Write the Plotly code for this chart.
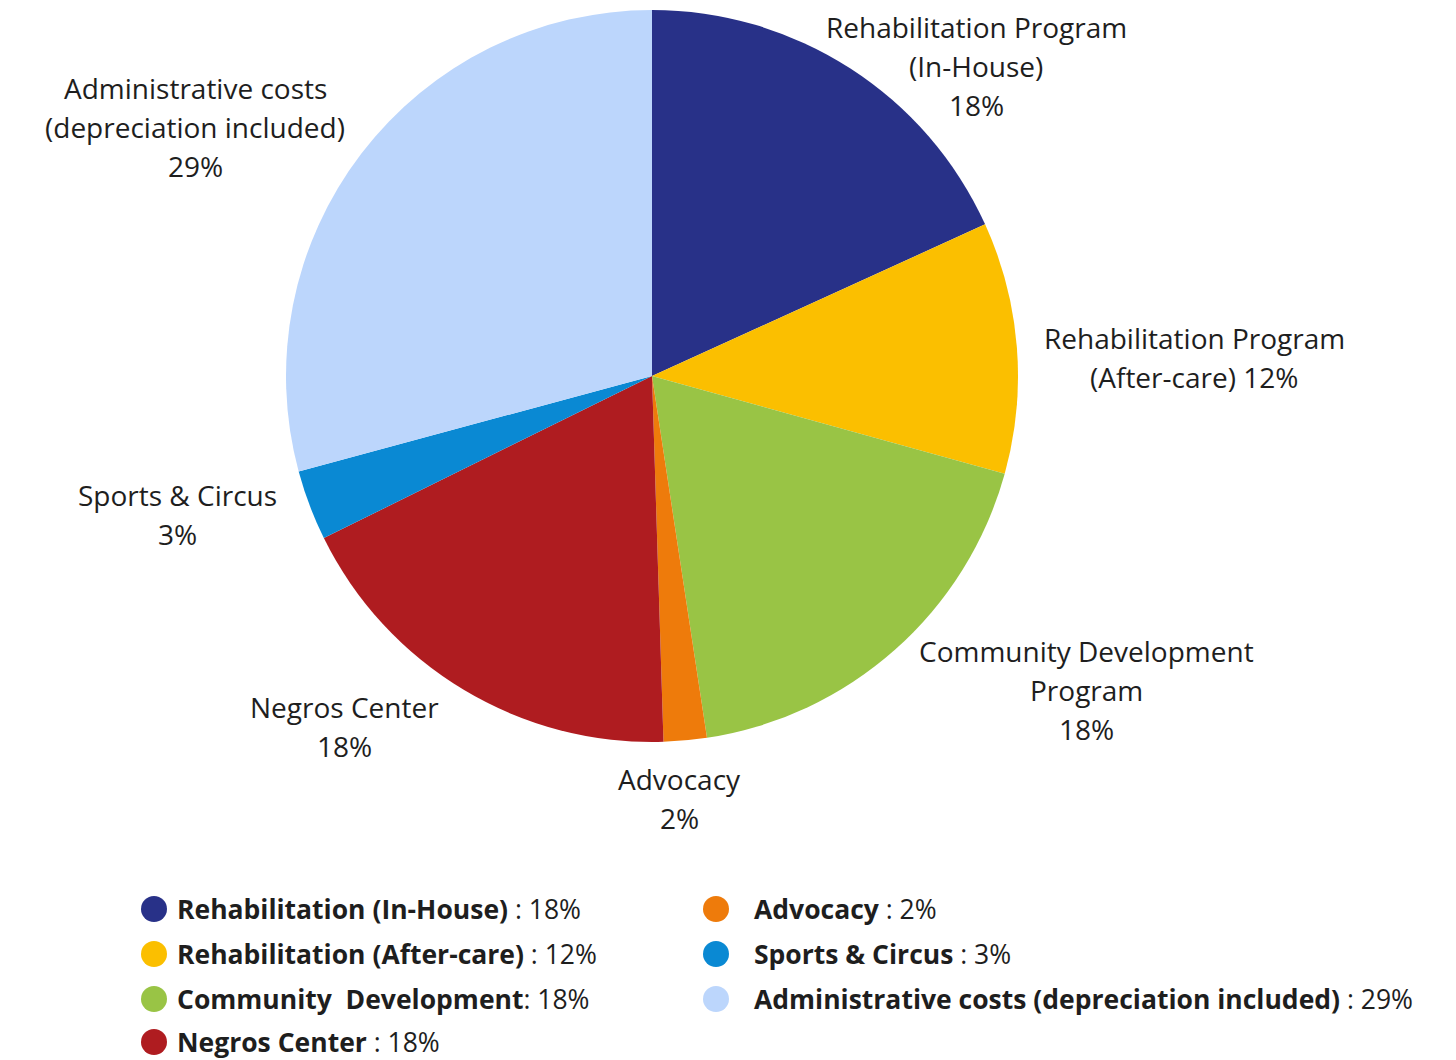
import plotly.graph_objects as go

# ---- data ----
slice_names = ["Rehabilitation Program (In-House)", "Rehabilitation Program (After-care)",
               "Community Development Program", "Advocacy", "Negros Center",
               "Sports & Circus", "Administrative costs (depreciation included)"]
slice_values = [18.2, 11.1, 18.3, 1.9, 18.2, 3.1, 29.2]
slice_pct = ["18%", "12%", "18%", "2%", "18%", "3%", "29%"]
slice_colors = ["#283188", "#FBBF00", "#99C445", "#EE7B0B", "#AF1C20", "#0A89D3", "#BCD6FC"]

legend_names = ["Rehabilitation (In-House)", "Rehabilitation (After-care)",
                "Community  Development", "Negros Center",
                "Advocacy", "Sports & Circus", "Administrative costs (depreciation included)"]
legend_pct = ["18%", "12%", "18%", "18%", "2%", "3%", "29%"]
legend_seps = [" : ", " : ", ": ", " : ", " : ", " : ", " : "]
legend_colors = ["#283188", "#FBBF00", "#99C445", "#AF1C20", "#EE7B0B", "#0A89D3", "#BCD6FC"]

# outside label lines (text lines per slice)
label_lines = [
    ["Rehabilitation Program", "(In-House)", slice_pct[0]],
    ["Rehabilitation Program", "(After-care) " + slice_pct[1]],
    ["Community Development", "Program", slice_pct[2]],
    ["Advocacy", slice_pct[3]],
    ["Negros Center", slice_pct[4]],
    ["Sports & Circus", slice_pct[5]],
    ["Administrative costs", "(depreciation included)", slice_pct[6]],
]
# label anchor positions in page pixels (center x, first line center y)
label_pos = [(976, 27), (1194, 338), (1086, 651), (679, 779), (344, 707), (177, 495), (195, 88)]

OFF = 8  # page body margin
W, H = 1440, 1052
FONT = "Open Sans"
TXT = "#1e1e1e"


def px(x):
    return (x - OFF) / W


def py(y):
    return 1 - (y - OFF) / H


fig = go.Figure(go.Pie(
    labels=slice_names, values=slice_values, sort=False, direction="clockwise",
    rotation=0, marker=dict(colors=slice_colors, line=dict(width=0)),
    textinfo="none", hoverinfo="label+percent", showlegend=False,
    domain=dict(x=[px(286), px(1018)], y=[py(742), py(10)]),
))

ann = []
LH = 39
for lines, (cx, cy) in zip(label_lines, label_pos):
    for i, t in enumerate(lines):
        ann.append(dict(x=px(cx), y=py(cy + i * LH), xref="paper", yref="paper",
                        text=t, showarrow=False, xanchor="center", yanchor="middle",
                        font=dict(family=FONT, size=28, color=TXT)))

shapes = []
leg_x = [175] * 4 + [752] * 3
leg_cx = [154] * 4 + [716] * 3
leg_y = [909, 954, 999, 1042, 909, 954, 999]
for name, sep, pct, col, x, cx, y in zip(legend_names, legend_seps, legend_pct, legend_colors,
                                         leg_x, leg_cx, leg_y):
    ann.append(dict(x=px(x), y=py(y), xref="paper", yref="paper",
                    text=f"<b>{name}</b>{sep}{pct}", showarrow=False,
                    xanchor="left", yanchor="middle",
                    font=dict(family=FONT, size=26.5, color=TXT)))
    shapes.append(dict(type="circle", xref="paper", yref="paper",
                       x0=px(cx - 13), x1=px(cx + 13),
                       y0=py(y + 13), y1=py(y - 13),
                       fillcolor=col, line=dict(width=0)))

fig.update_layout(width=W, height=H, margin=dict(l=0, r=0, t=0, b=0),
                  paper_bgcolor="white", plot_bgcolor="white",
                  annotations=ann, shapes=shapes, showlegend=False,
                  font=dict(family=FONT, color=TXT))
fig.write_html("out.html")
